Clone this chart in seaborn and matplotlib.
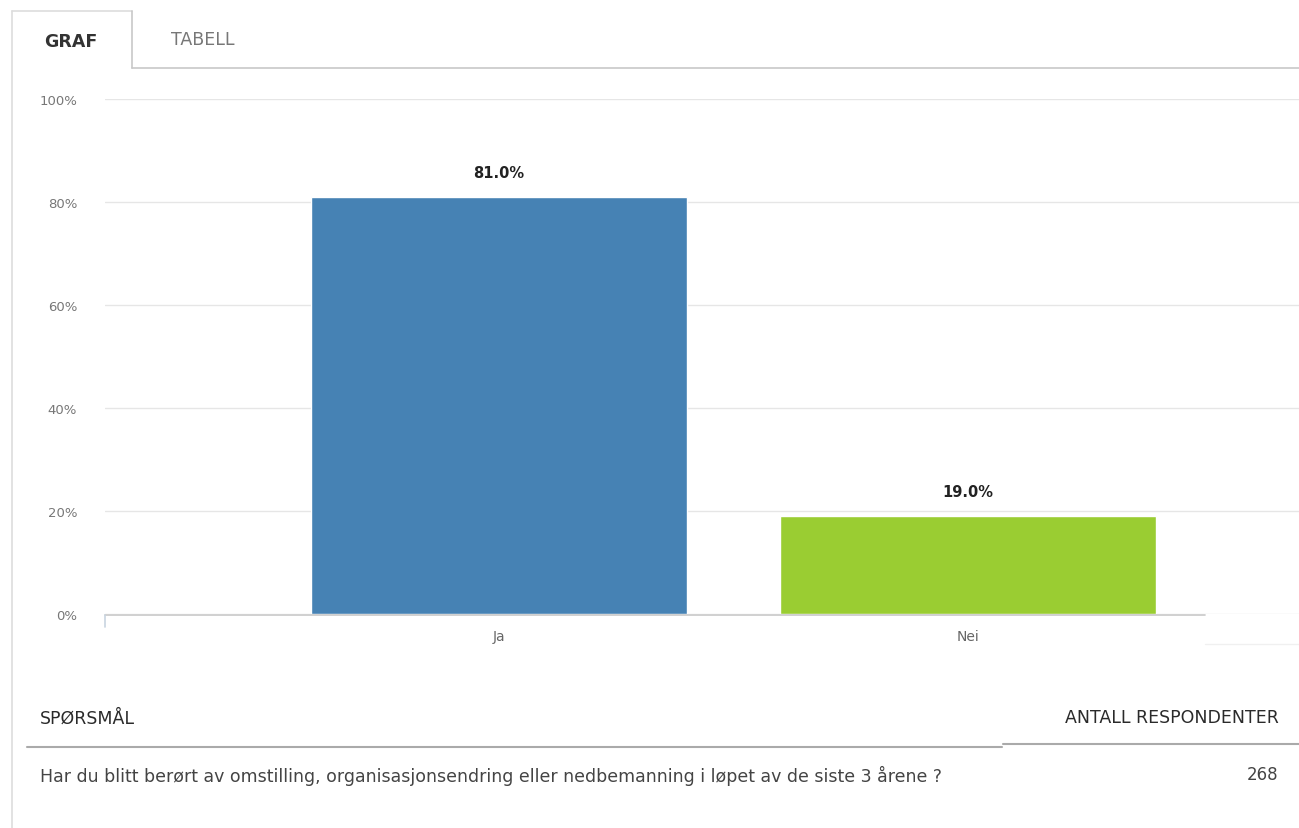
import matplotlib
matplotlib.use("Agg")
import matplotlib.pyplot as plt
from matplotlib.lines import Line2D
import seaborn as sns
import pandas as pd

categories = ["Ja", "Nei"]
values = [81.0, 19.0]
colors = ["#4682B4", "#9ACD32"]
yticks = [0, 20, 40, 60, 80, 100]
question = "Har du blitt berørt av omstilling, organisasjonsendring eller nedbemanning i løpet av de siste 3 årene ?"
respondents = 268

sns.set_theme(style="white")
plt.rcParams["font.family"] = ["DejaVu Sans"]

W, H = 1299, 829
fig = plt.figure(figsize=(W / 100, H / 100), dpi=100)
fig.patch.set_facecolor("white")

def fx(px):
    return px / W

def fy(py):
    return 1 - py / H

ax = fig.add_axes([fx(105), fy(615), fx(1299 - 105), (615 - 100) / H])
df = pd.DataFrame({"cat": categories, "val": values})
sns.barplot(data=df, x="cat", y="val", hue="cat", palette=colors, width=0.80,
            legend=False, ax=ax, saturation=1)
ax.set_xlim(-0.84, 1 + (1299 - 968) / 469)
ax.set_ylim(0, 100)
ax.set_yticks(yticks)
ax.set_yticklabels([f"{t}%" for t in yticks])
ax.set_xlabel("")
ax.set_ylabel("")
for s in ax.spines.values():
    s.set_visible(False)
ax.grid(axis="y", color="#e6e6e6", linewidth=1)
ax.set_axisbelow(True)
ax.tick_params(axis="y", length=0, pad=20, labelsize=9.5, labelcolor="#777777")
ax.tick_params(axis="x", length=0, pad=11, labelsize=10, labelcolor="#666666")
for c in ax.containers:
    ax.bar_label(c, labels=[f"{v:.1f}%" for v in c.datavalues], padding=12,
                 fontsize=10.5, fontweight="bold", color="#222222")

# x-axis baseline and tick at start
fig.add_artist(Line2D([fx(105), fx(1205)], [fy(616), fy(616)], color="#c8c8c8", lw=1.2))
fig.add_artist(Line2D([fx(105), fx(105)], [fy(616), fy(628)], color="#c8d4e0", lw=1.2))
fig.add_artist(Line2D([fx(1205), fx(1299)], [fy(645), fy(645)], color="#f0f0f0", lw=1))

# tabs
grey = "#c8c8c8"
fig.add_artist(Line2D([fx(12), fx(12)], [fy(12), fy(829)], color="#dddddd", lw=1.2))
fig.add_artist(Line2D([fx(12), fx(132)], [fy(12), fy(12)], color="#dddddd", lw=1.2))
fig.add_artist(Line2D([fx(132), fx(132)], [fy(12), fy(69)], color=grey, lw=1.2))
fig.add_artist(Line2D([fx(132), fx(1299)], [fy(69), fy(69)], color=grey, lw=1.2))
fig.text(fx(71), fy(42), "GRAF", ha="center", va="center", fontsize=12.5,
         fontweight="bold", color="#333333")
fig.text(fx(203), fy(40), "TABELL", ha="center", va="center", fontsize=12.5,
         color="#777777")

# table
fig.text(fx(40), fy(719), "SPØRSMÅL", ha="left", va="center", fontsize=12.5,
         color="#2a2a2a")
fig.text(fx(1279), fy(718), "ANTALL RESPONDENTER", ha="right", va="center",
         fontsize=12.5, color="#2a2a2a")
fig.add_artist(Line2D([fx(27), fx(1002)], [fy(748), fy(748)], color="#aaaaaa", lw=1.5))
fig.add_artist(Line2D([fx(1003), fx(1299)], [fy(745), fy(745)], color="#aaaaaa", lw=1.5))
fig.text(fx(40), fy(776), question, ha="left", va="center", fontsize=12.5,
         color="#444444")
fig.text(fx(1278), fy(775), str(respondents), ha="right", va="center",
         fontsize=12, color="#444444")

fig.savefig("out.png", dpi=100)
